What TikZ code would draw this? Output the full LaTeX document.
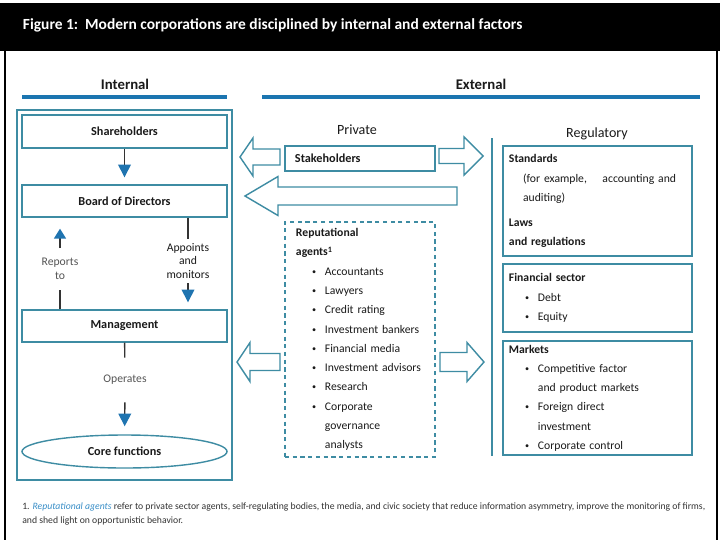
\documentclass[tikz,border=0pt]{standalone}
\usepackage{fontspec}
\setmainfont{Carlito}
\usepackage{xcolor}
\usepackage{graphicx}
\usetikzlibrary{arrows.meta,positioning,shapes.geometric}
\definecolor{boxline}{HTML}{3E8CA3}
\definecolor{barblue}{HTML}{1B75B0}
\definecolor{headblue}{HTML}{1F74B0}
\definecolor{stemgray}{HTML}{333333}
\definecolor{lblgray}{HTML}{555555}
\definecolor{txt}{HTML}{1A1A1A}
\definecolor{fnblue}{HTML}{3A8FC8}
\newcommand{\bodyfont}{\fontsize{8.3}{13.7}\selectfont}
\newcommand{\boxfont}{\fontsize{8.7}{10}\selectfont\bfseries}
\newcommand{\dotmark}{\raisebox{0.6pt}{\scalebox{0.7}{\textbullet}}}
\newcommand{\itm}[1]{\hspace*{11.5pt}\makebox[9.1pt][l]{\dotmark}#1}
\newcommand{\cont}[1]{\hspace*{20.6pt}#1}

\begin{document}
\begin{tikzpicture}[x=0.025cm, y=-0.025cm,
  frame/.style={draw=boxline, line width=1pt},
  panel/.style={frame, minimum width=5.125cm, minimum height=0.8cm, font=\boxfont, text=txt},
  listbox/.style={frame, align=left, inner ysep=0pt, font=\bodyfont, text=txt},
  head/.style={font=\fontsize{10}{12}\selectfont, text=txt},
  lbl/.style={inner sep=0pt, align=center, font=\fontsize{8.3}{9.6}\selectfont},
  stem/.style={draw=stemgray, line width=1pt},
  flow/.style={stem, -{Triangle[length=9pt,width=9pt,color=headblue]}},
  bar/.style={fill=barblue},
  pics/blockarrow/.style n args={4}{code={
    \draw[frame, fill=white, line join=miter] (0,0) -- (#2,#4) -- (#2,#3) -- (#1,#3)
      -- (#1,-#3) -- (#2,-#3) -- (#2,-#4) -- cycle;}},
]
  \useasboundingbox (0,0) rectangle (720,540);
  \fill[white] (0,0) rectangle (720,540);

  % Title bar and frame
  \fill[black] (0,3) rectangle (720,51);
  \node[anchor=west, text=white, font=\fontsize{11}{13}\selectfont\bfseries] (title) at (18,25)
    {Figure 1:\ \ Modern corporations are disciplined by internal and external factors};
  \draw[line width=1.2pt] (5,51) -- (5,540);
  \draw[line width=1.2pt] (717,51) -- (717,540);

  % Column headers
  \node[head, font=\fontsize{10.5}{12}\selectfont\bfseries] (inthd) at (125,84) {Internal};
  \node[head, font=\fontsize{10.5}{12}\selectfont\bfseries] (exthd) at (481,84) {External};
  \fill[bar] (22,95) rectangle (227,99);
  \fill[bar] (262,95) rectangle (700,99);

  % Internal
  \node[frame, minimum width=5.375cm, minimum height=9.25cm] (inner) at (124.5,295) {};
  \node[panel, minimum height=0.825cm] (sh) at (124.5,131.5) {Shareholders};
  \node[panel] (bd) at (124.5,201) {Board of Directors};
  \node[panel] (mg) at (124.5,326) {Management};
  \node[frame, ellipse, minimum width=5.125cm, minimum height=0.825cm, font=\boxfont, text=txt] (core) at (124.5,451.5) {Core functions};

  \node[lbl, text=lblgray, minimum height=1.025cm] (rep) at (60,269) {Reports\\to};
  \node[lbl, text=txt, minimum height=1.1cm] (app) at (188,261) {Appoints\\and\\monitors};
  \node[lbl, text=lblgray, minimum height=1.1cm] (op) at (125,380) {Operates};

  \draw[flow, shorten >=0.175cm] (sh) -- (bd);
  \draw[stem] (bd.south -| app.north) -- (app.north);
  \draw[flow, shorten >=0.175cm] (app.south) -- (app.south |- mg.north);
  \draw[stem] (mg.north -| rep.south) -- (rep.south);
  \draw[flow, -{Triangle[length=7pt,width=8.5pt,color=headblue]}, shorten >=0.275cm] (rep.north) -- (rep.north |- bd.south);
  \draw[stem] (mg) -- (op);
  \draw[flow, shorten >=0.2cm] (op) -- (core);

  % Private
  \node[head] (prv) at (357,130) {Private};
  \node[frame, minimum width=3.75cm, minimum height=0.625cm, text width=3.25cm, inner xsep=0.25cm,
    align=left, font=\boxfont, text=txt] (stk) at (360,158.5) {Stakeholders};
  \node[listbox, dashed, dash pattern=on 3pt off 2.5pt, minimum width=3.75cm, minimum height=5.875cm,
    text width=3.2cm, inner xsep=0.275cm] (rep agents) at (360,339.5)
    {\textbf{Reputational}\\
     \textbf{agents\textsuperscript{1}}\\
     \itm{Accountants}\\
     \itm{Lawyers}\\
     \itm{Credit rating}\\
     \itm{Investment bankers}\\
     \itm{Financial media}\\
     \itm{Investment advisors}\\
     \itm{Research}\\
     \itm{Corporate}\\
     \cont{governance}\\
     \cont{analysts}};

  % Block arrows
  \pic at (240,157) {blockarrow={40}{13}{8}{19}};
  \pic[xscale=-1] at (483,156) {blockarrow={44}{19}{7.5}{19}};
  \pic at (245,196) {blockarrow={212}{33}{9}{19.5}};
  \pic at (237,362) {blockarrow={43}{13}{8.5}{19.5}};
  \pic[xscale=-1] at (484,362) {blockarrow={44}{17}{9.5}{19.5}};

  % Regulatory
  \draw[frame] (492,138) -- (492,456);
  \node[head] (reg) at (597,134) {Regulatory};
  \node[listbox, minimum width=4.725cm, minimum height=2.75cm, text width=4.425cm, inner xsep=0.15cm]
    (std) at (597.5,201)
    {\textbf{Standards}\\
     \hspace*{10pt}(for example,\quad\ accounting and\\
     \hspace*{10pt}auditing)\\[4pt]
     \textbf{Laws}\\
     \textbf{and regulations}};
  \node[listbox, minimum width=4.725cm, minimum height=1.7cm, text width=4.425cm, inner xsep=0.15cm]
    (fin) at (597.5,298)
    {\textbf{Financial sector}\\
     \itm{Debt}\\
     \itm{Equity}};
  \node[listbox, minimum width=4.725cm, minimum height=2.85cm, text width=4.425cm, inner xsep=0.15cm]
    (mkt) at (597.5,398)
    {\textbf{Markets}\\
     \itm{Competitive factor}\\
     \cont{and product markets}\\
     \itm{Foreign direct}\\
     \cont{investment}\\
     \itm{Corporate control}};

  % Footnote
  \node[anchor=west, align=left, inner sep=0pt, font=\fontsize{6.9}{10}\selectfont, text=stemgray] (note) at (22,514)
    {1. \textcolor{fnblue}{\textit{Reputational agents}} refer to private sector agents, self-regulating bodies, the media, and civic society that reduce information asymmetry, improve the monitoring of firms,\\
     and shed light on opportunistic behavior.};
\end{tikzpicture}
\end{document}
